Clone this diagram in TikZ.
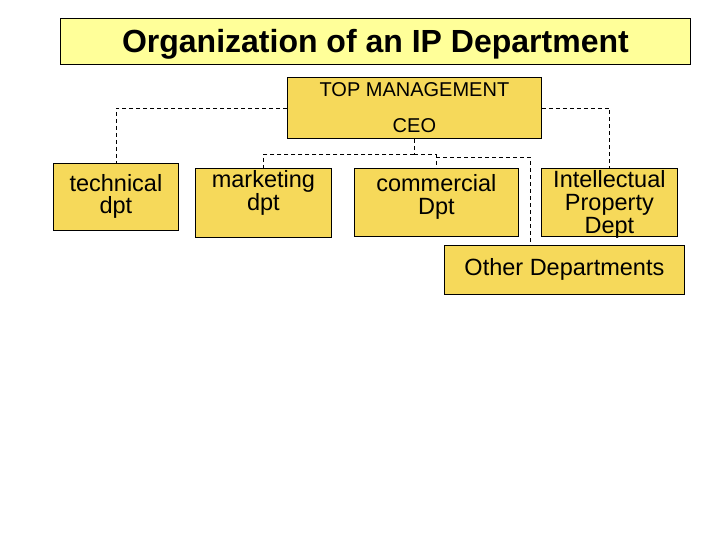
\documentclass[tikz,border=0pt]{standalone}
\usepackage{fontspec}
\setmainfont{Liberation Sans}
\usetikzlibrary{positioning}

\definecolor{titleyellow}{HTML}{FFFF99}
\definecolor{boxyellow}{HTML}{F6D95A}

\newcommand\deptfont[1]{\fontsize{23.5}{#1}\selectfont}

\tikzset{
  dept/.style={draw, fill=boxyellow, align=center, anchor=north west,
    inner sep=2pt, line width=0.8pt},
  textup/.style={text depth=#1},
  link/.style={dash pattern=on 4pt off 3pt, line width=0.7pt},
}

\begin{document}
\begin{tikzpicture}[x=1pt, y=-1pt]
    \useasboundingbox[fill=white] (0,0) rectangle (720,540);
    % title
    \node[dept, fill=titleyellow, minimum width=630, minimum height=46, textup=0pt,
          font=\bfseries\fontsize{32}{36}\selectfont] (title) at (60,18)
          {Organization of an IP Department};
    % top management
    \node[dept, minimum width=254, minimum height=61,
          font=\fontsize{20}{36}\selectfont] (top) at (287,77)
          {TOP MANAGEMENT\\CEO};
    % departments
    \node[dept, minimum width=125, minimum height=67,
          font=\deptfont{22}] (tech) at (53,163) {technical\\dpt};
    \node[dept, minimum width=136, minimum height=68, textup=25pt,
          font=\deptfont{21}] (mkt) at (195,168) {marketing\\dpt};
    \node[dept, minimum width=164, minimum height=68, textup=15pt,
          font=\deptfont{23}] (com) at (354,168) {commercial\\Dpt};
    \node[dept, minimum width=136, minimum height=68, textup=0pt,
          font=\deptfont{23}] (ip) at (541,168) {Intellectual\\Property\\Dept};
    \node[dept, minimum width=240, minimum height=49,
          font=\deptfont{23}] (oth) at (444,245) {Other Departments};
    % connectors
    \draw[link] (top.west) -| (tech.north);
    \draw[link] (top.east) -| (ip.north);
    \draw[link] (top.south) -- ++(0,16) coordinate (bus);
    \draw[link] (bus) -| (mkt.north);
    \draw[link] (bus) -| (com.north);
    \coordinate (drop) at (530,157);
    \draw[link] (com.north |- drop) -- (drop) -- (drop |- oth.north);
\end{tikzpicture}
\end{document}
